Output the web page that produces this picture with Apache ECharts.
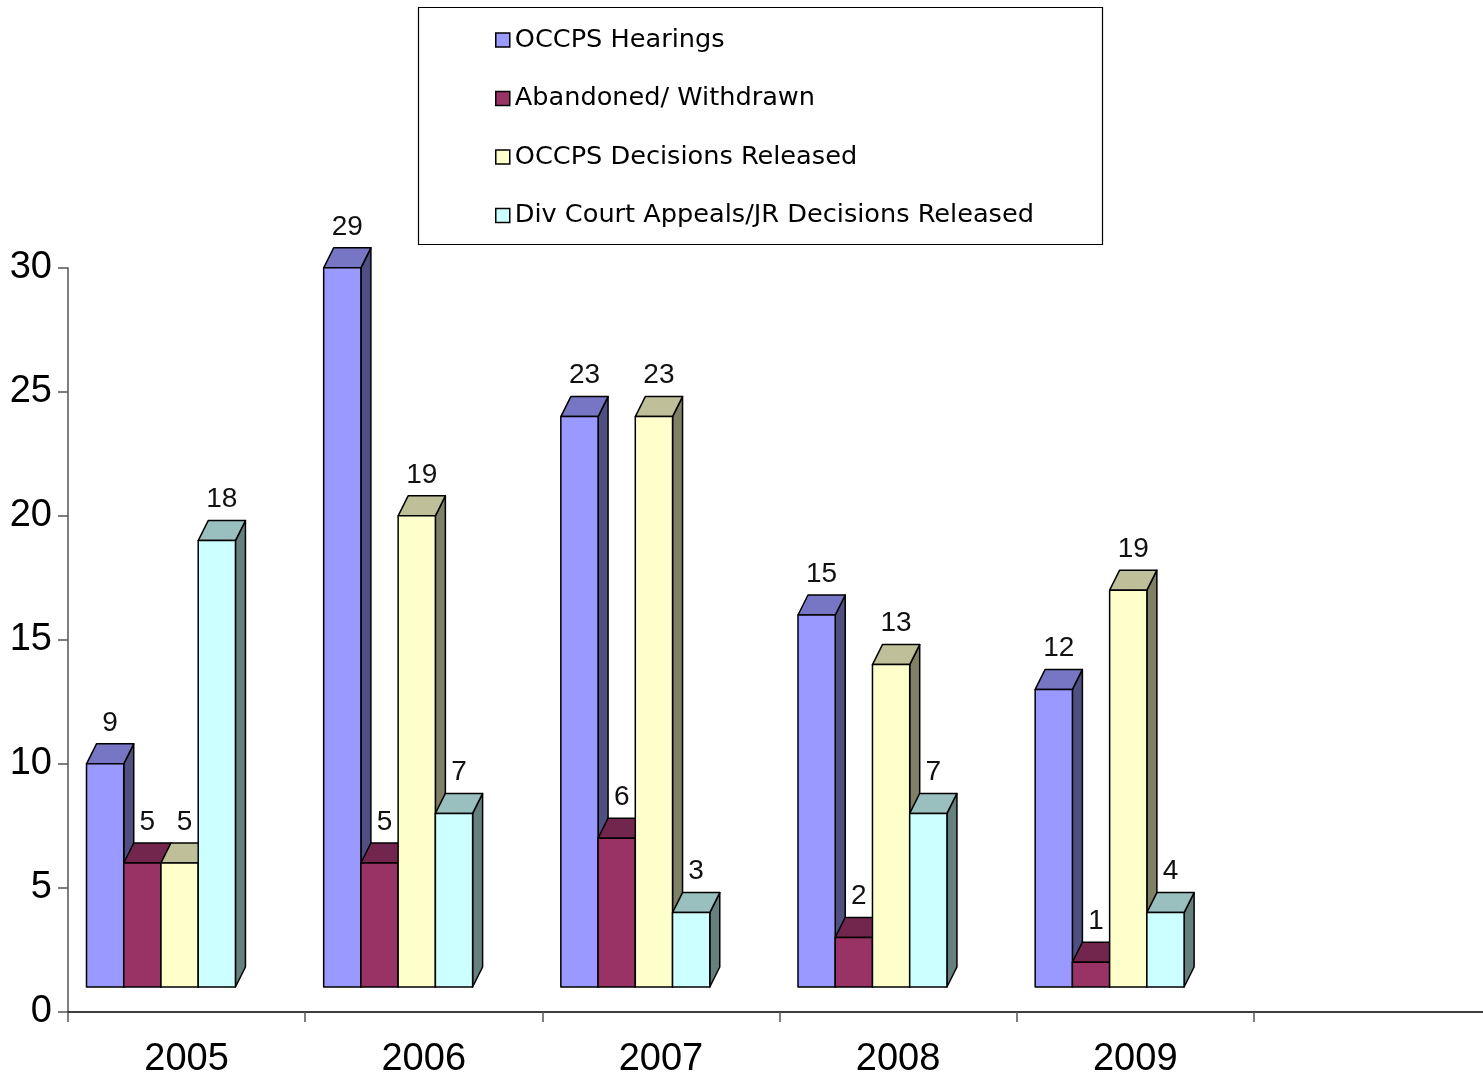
<!DOCTYPE html>
<html lang="en">
<head>
  <meta charset="UTF-8">
  <title>OCCPS Hearings and Decisions 2005-2009</title>
  <script src="https://cdn.jsdelivr.net/npm/echarts@6/dist/echarts.min.js"></script>
  <style>
    html, body { margin: 0; padding: 0; background: #fff; overflow: hidden; }
    /* the plot runs a little past the right edge of the window in the original */
    #chart { width: 1491px; height: 1081px; }
  </style>
</head>
<body>
  <div id="chart"></div>
  <script>
    // categories (last slot is empty in the original chart)
    const years = ['2005', '2006', '2007', '2008', '2009', ''];

    const seriesNames = [
      'OCCPS Hearings',
      'Abandoned/ Withdrawn',
      'OCCPS Decisions Released',
      'Div Court Appeals/JR Decisions Released'
    ];

    // bar heights as drawn
    const hearings   = [9, 29, 23, 15, 12];
    const abandoned  = [5, 5, 6, 2, 1];
    const decisions  = [5, 19, 23, 13, 16];
    const divCourt   = [18, 7, 3, 7, 3];

    // data labels as printed (two of them differ from the bar heights in the original)
    const hearingsLabels  = ['9', '29', '23', '15', '12'];
    const abandonedLabels = ['5', '5', '6', '2', '1'];
    const decisionsLabels = ['5', '19', '23', '13', '19'];
    const divCourtLabels  = ['18', '7', '3', '7', '4'];

    const allValues = [hearings, abandoned, decisions, divCourt];
    const allLabels = [hearingsLabels, abandonedLabels, decisionsLabels, divCourtLabels];

    const frontColors = ['#9999FF', '#993366', '#FFFFCC', '#CCFFFF'];
    const topColors   = ['#7676C4', '#73264D', '#BFBF99', '#99BFBF'];
    const sideColors  = ['#4F4F82', '#4D1A33', '#808066', '#668080'];

    // 3d look
    const DX = 10, DY = 20, FLOOR = 25;

    function make3dBar(idx) {
      return function (params, api) {
        const cat = api.value(0);
        const base = api.coord([cat, 0]);
        const top = api.coord([cat, api.value(1)]);
        const band = api.size([1, 0])[0];
        const bw = band * 0.157;
        const x0 = base[0] - band / 2 + band * 0.078 + idx * bw;
        const x1 = x0 + bw;
        const yb = base[1] - FLOOR;
        const yt = top[1] - FLOOR;
        const stroke = { stroke: '#000', lineWidth: 1.5, lineJoin: 'round' };
        return {
          type: 'group',
          children: [
            {
              type: 'polygon',
              shape: { points: [[x1, yb], [x1 + DX, yb - DY], [x1 + DX, yt - DY], [x1, yt]] },
              style: Object.assign({ fill: sideColors[idx] }, stroke)
            },
            {
              type: 'polygon',
              shape: { points: [[x0, yt], [x0 + DX, yt - DY], [x1 + DX, yt - DY], [x1, yt]] },
              style: Object.assign({ fill: topColors[idx] }, stroke)
            },
            {
              type: 'rect',
              shape: { x: x0, y: yt, width: bw, height: yb - yt },
              style: Object.assign({ fill: frontColors[idx] }, stroke)
            },
            {
              type: 'text',
              style: {
                text: allLabels[idx][params.dataIndex],
                x: (x0 + x1) / 2 + DX / 2,
                y: yt - DY - 7,
                align: 'center',
                verticalAlign: 'bottom',
                font: '28px "Liberation Sans", Arial, sans-serif',
                fill: '#111'
              }
            }
          ]
        };
      };
    }

    const chart = echarts.init(document.getElementById('chart'));

    const series = seriesNames.map((name, i) => ({
      name: name,
      type: 'custom',
      renderItem: make3dBar(i),
      itemStyle: { color: frontColors[i] },
      encode: { x: 0, y: 1 },
      clip: false,
      data: allValues[i].map((v, k) => [k, v])
    }));

    const option = {
      backgroundColor: '#fff',
      animation: false,
      grid: { left: 68, top: 268, right: 0, height: 744, containLabel: false },
      legend: {
        orient: 'vertical',
        left: 495,
        top: 25,
        padding: 0,
        icon: 'rect',
        itemWidth: 14,
        itemHeight: 14,
        itemGap: 28.5,
        itemStyle: { borderColor: '#000', borderWidth: 1.5 },
        textStyle: {
          fontFamily: '"DejaVu Sans", Verdana, sans-serif',
          fontSize: 25.6,
          lineHeight: 30,
          color: '#000'
        },
        data: seriesNames
      },
      graphic: [{
        type: 'rect',
        shape: { x: 418.5, y: 7.5, width: 684, height: 237 },
        style: { fill: 'none', stroke: '#000', lineWidth: 1.2 },
        z: 0
      }],
      xAxis: {
        type: 'category',
        data: years,
        boundaryGap: true,
        axisLine: { lineStyle: { color: '#000', width: 1.5 } },
        axisTick: { show: true, length: 10, lineStyle: { color: '#555', width: 1.5 } },
        axisLabel: {
          margin: 29,
          fontFamily: '"Liberation Sans", Arial, sans-serif',
          fontSize: 38,
          color: '#000'
        }
      },
      yAxis: {
        type: 'value',
        min: 0,
        max: 30,
        interval: 5,
        splitLine: { show: false },
        axisLine: { show: true, lineStyle: { color: '#555', width: 1.5 } },
        axisTick: { show: true, length: 10, lineStyle: { color: '#555', width: 1.5 } },
        axisLabel: {
          margin: 16,
          fontFamily: '"Liberation Sans", Arial, sans-serif',
          fontSize: 38,
          color: '#000',
          padding: [8, 0, 0, 0]
        }
      },
      series: series
    };

    chart.setOption(option);
  </script>
</body>
</html>
